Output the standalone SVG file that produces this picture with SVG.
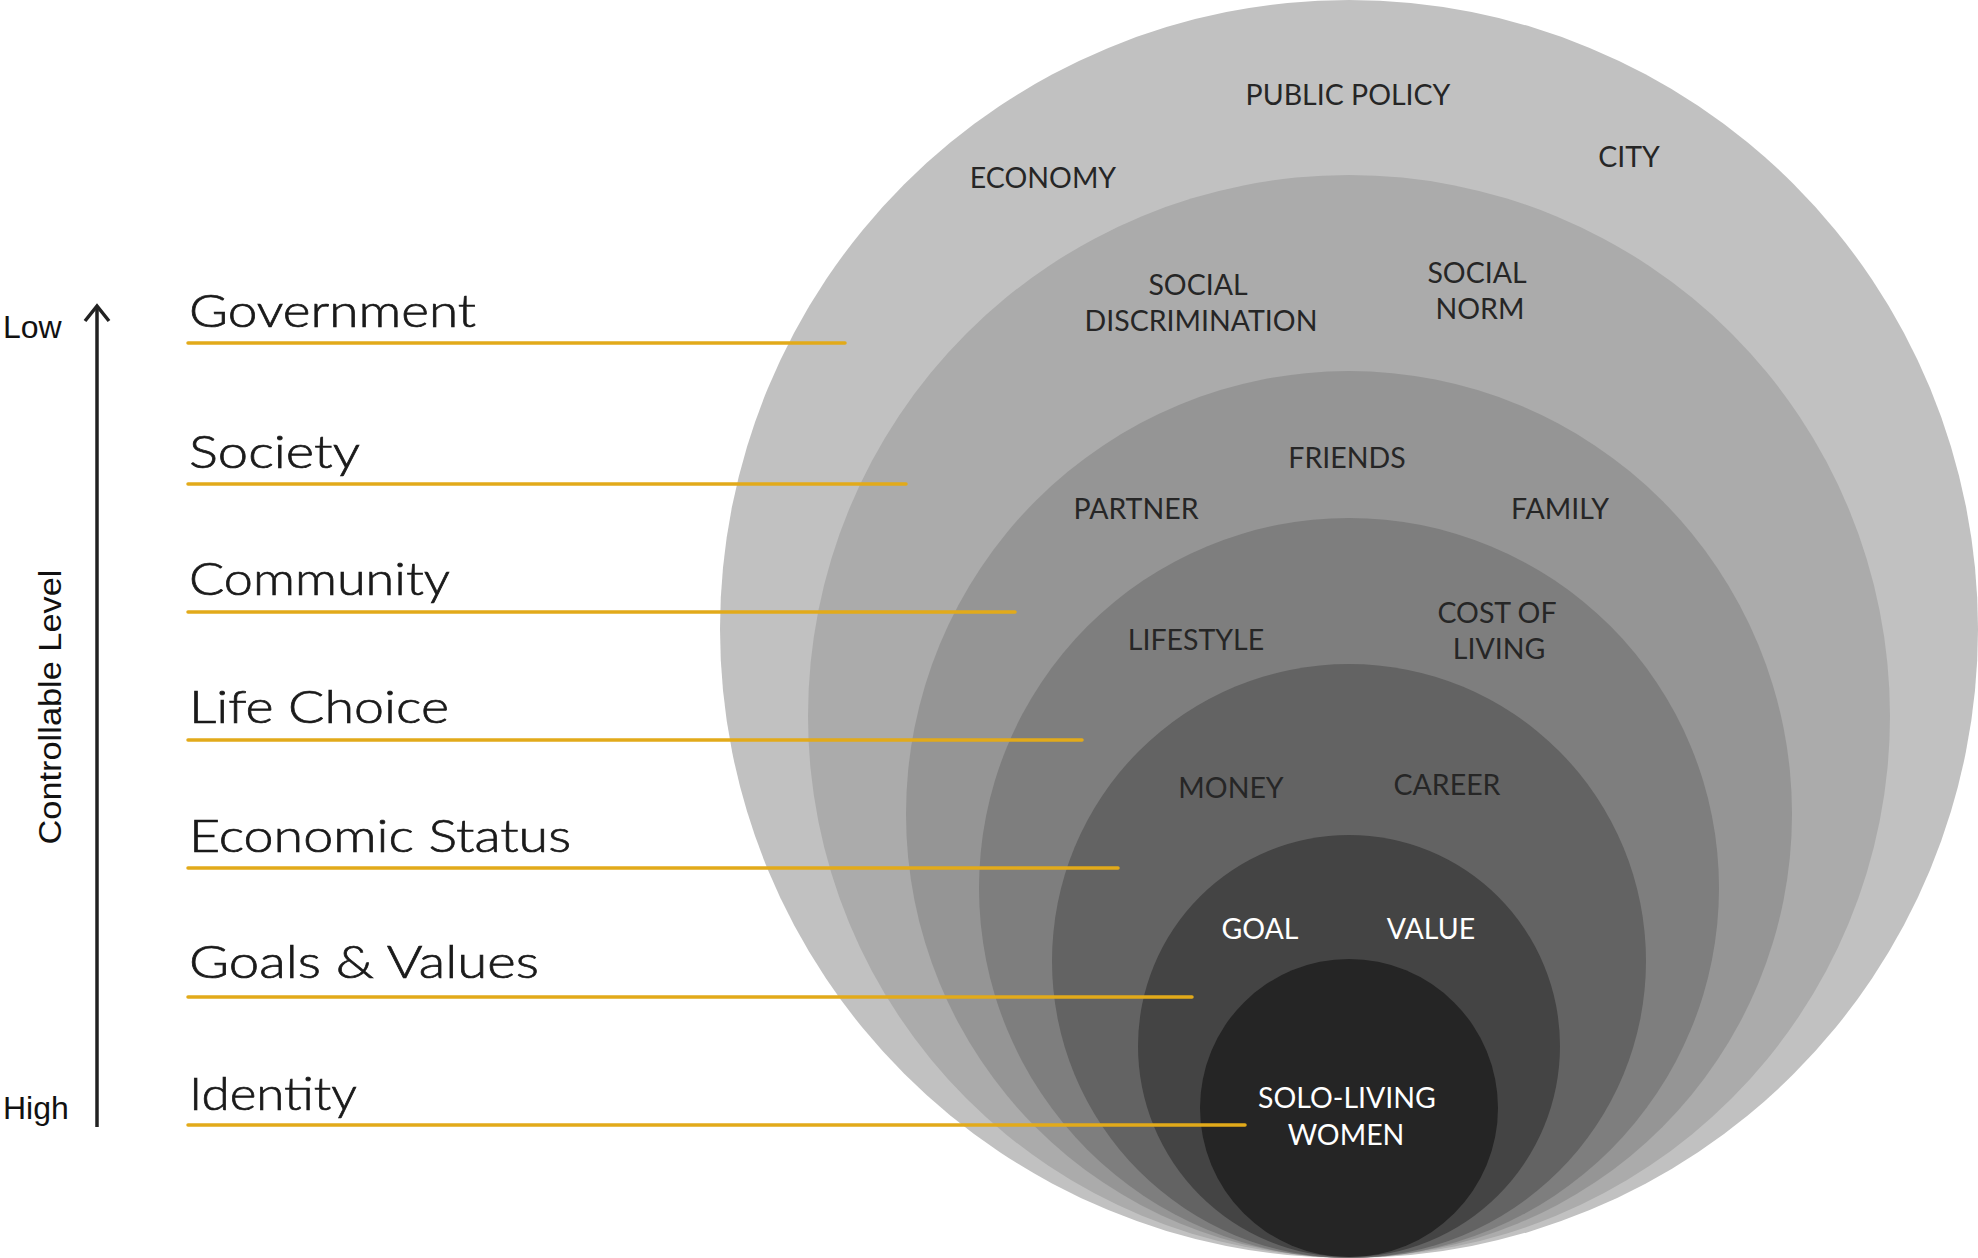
<svg xmlns="http://www.w3.org/2000/svg" width="1978" height="1258" viewBox="0 0 1978 1258">
<style>
.lbl{font-family:Lato,"Open Sans","Liberation Sans",sans-serif;font-weight:300;font-size:46px;fill:#1a1a1a;stroke:#1a1a1a;stroke-width:0.7px}
.ax{font-family:"Liberation Sans",Arial,sans-serif;font-size:32px;fill:#111}
.in{font-family:Lato,"Liberation Sans",sans-serif;font-size:28.5px;fill:#262626;text-anchor:middle}
.wt{fill:#ffffff}
.ld{stroke:#e2aa1a;stroke-width:3.5;stroke-linecap:round;fill:none}
</style>
<rect width="1978" height="1258" fill="#ffffff"/>
<g id="layers">
<g id="government"><circle cx="1349" cy="629" r="629" fill="#c1c1c1"/></g>
<g id="society"><circle cx="1349" cy="716" r="541" fill="#ababab"/></g>
<g id="community"><circle cx="1349" cy="814" r="443" fill="#959595"/></g>
<g id="life-choice"><circle cx="1349" cy="888" r="370" fill="#7e7e7e"/></g>
<g id="economic-status"><circle cx="1349" cy="961" r="297" fill="#636363"/></g>
<g id="goals-values"><circle cx="1349" cy="1046" r="211" fill="#444444"/></g>
<g id="identity"><circle cx="1349" cy="1108" r="149" fill="#252525"/></g>
</g>
<g id="connectors">
<line class="ld" x1="188" y1="343" x2="845" y2="343"/>
<line class="ld" x1="188" y1="484" x2="906" y2="484"/>
<line class="ld" x1="188" y1="612" x2="1015" y2="612"/>
<line class="ld" x1="188" y1="740" x2="1082" y2="740"/>
<line class="ld" x1="188" y1="868" x2="1118" y2="868"/>
<line class="ld" x1="188" y1="997" x2="1192" y2="997"/>
<line class="ld" x1="188" y1="1125" x2="1245" y2="1125"/>
</g>
<g id="axis">
<line x1="97" y1="307" x2="97" y2="1127" stroke="#222" stroke-width="3.5"/>
<polyline points="85,321 97,306 109,321" fill="none" stroke="#222" stroke-width="3.5"/>
<text class="ax" x="3" y="338">Low</text>
<text class="ax" x="3" y="1119">High</text>
<text class="ax" transform="translate(61,707) rotate(-90)" text-anchor="middle" textLength="275" lengthAdjust="spacingAndGlyphs">Controllable Level</text>
</g>
<g id="labels">
<text class="lbl" x="189" y="327" textLength="287" lengthAdjust="spacingAndGlyphs">Government</text>
<text class="lbl" x="189" y="468" textLength="171" lengthAdjust="spacingAndGlyphs">Society</text>
<text class="lbl" x="189" y="595" textLength="261" lengthAdjust="spacingAndGlyphs">Community</text>
<text class="lbl" x="189" y="723" textLength="260" lengthAdjust="spacingAndGlyphs">Life Choice</text>
<text class="lbl" x="189" y="852" textLength="382" lengthAdjust="spacingAndGlyphs">Economic Status</text>
<text class="lbl" x="189" y="978" textLength="350" lengthAdjust="spacingAndGlyphs">Goals &amp; Values</text>
<text class="lbl" x="189" y="1110" textLength="168" lengthAdjust="spacingAndGlyphs">Identity</text>
</g>
<g id="items">
<text class="in" x="1348" y="105">PUBLIC POLICY</text>
<text class="in" x="1629" y="167">CITY</text>
<text class="in" x="1043" y="188">ECONOMY</text>
<text class="in" x="1198" y="295">SOCIAL</text>
<text class="in" x="1201" y="331">DISCRIMINATION</text>
<text class="in" x="1477" y="283">SOCIAL</text>
<text class="in" x="1480" y="319">NORM</text>
<text class="in" x="1347" y="468">FRIENDS</text>
<text class="in" x="1136" y="519">PARTNER</text>
<text class="in" x="1560" y="519">FAMILY</text>
<text class="in" x="1196" y="650">LIFESTYLE</text>
<text class="in" x="1497" y="623">COST OF</text>
<text class="in" x="1499" y="659">LIVING</text>
<text class="in" x="1231" y="798">MONEY</text>
<text class="in" x="1447" y="795">CAREER</text>
<text class="in wt" x="1260" y="939">GOAL</text>
<text class="in wt" x="1431" y="939">VALUE</text>
<text class="in wt" x="1347" y="1108">SOLO-LIVING</text>
<text class="in wt" x="1346" y="1145">WOMEN</text>
</g>
</svg>
